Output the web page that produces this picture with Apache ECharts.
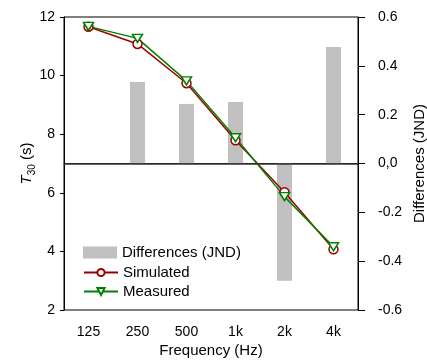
<!DOCTYPE html>
<html><head><meta charset="utf-8">
<script src="https://cdn.jsdelivr.net/npm/echarts@6/dist/echarts.min.js"></script>
<style>html,body{margin:0;padding:0;background:#fff}#c{width:427px;height:360px}</style>
</head><body><div id="c"></div>
<script>
var categories = ['125', '250', '500', '1k', '2k', '4k'];
var simulated = [11.67, 11.08, 9.74, 7.79, 6.02, 4.07];
var measured = [11.68, 11.27, 9.82, 7.88, 5.87, 4.16];
var differences = [null, 0.334, 0.244, 0.252, -0.48, 0.477];
var leftTicks = {min: 2, max: 12, interval: 2};
var rightTicks = {min: -0.6, max: 0.6, interval: 0.2};

var font = 'Liberation Sans, Arial, sans-serif';
var chart = echarts.init(document.getElementById('c'), null, {renderer: 'canvas'});
chart.setOption({
  animation: false,
  textStyle: {fontFamily: font},
  grid: {left: 64, right: 69, top: 17, bottom: 50, outerBoundsMode: 'none', containLabel: false,
    show: true, borderColor: '#000', borderWidth: 1, backgroundColor: 'transparent'},
  legend: [{
    orient: 'vertical', left: 83, top: 245, padding: 0, itemWidth: 34, itemHeight: 12, itemGap: 5,
    textStyle: {fontSize: 15, color: '#000', fontFamily: font},
    data: [{name: 'Differences (JND)', icon: 'rect'}]
  }, {
    orient: 'vertical', left: 83, top: 265, padding: 0, itemWidth: 34, itemHeight: 9, itemGap: 4,
    textStyle: {fontSize: 15, color: '#000', fontFamily: font},
    data: ['Simulated', 'Measured']
  }],
  xAxis: {
    type: 'category', data: categories, boundaryGap: true,
    name: 'Frequency (Hz)', nameLocation: 'middle', nameGap: 33, nameMoveOverlap: false,
    nameTextStyle: {fontSize: 15, color: '#000'},
    axisLine: {lineStyle: {color: '#000', width: 1}},
    axisTick: {alignWithLabel: true, length: 4, lineStyle: {color: '#000'}},
    axisLabel: {fontSize: 14, color: '#000', margin: 15}
  },
  yAxis: [{
    type: 'value', min: leftTicks.min, max: leftTicks.max, interval: leftTicks.interval,
    name: '{i|T}{sub|30} {n|(s)}', nameLocation: 'middle', nameGap: 30, nameRotate: 90, nameMoveOverlap: false,
    nameTextStyle: {fontSize: 15, color: '#000', rich: {
      i: {fontStyle: 'italic', fontSize: 15, color: '#000', lineHeight: 18, verticalAlign: 'bottom'},
      sub: {fontSize: 10, color: '#000', lineHeight: 18, verticalAlign: 'bottom', padding: [0, 0, -3, 0]},
      n: {fontSize: 15, color: '#000', lineHeight: 18, verticalAlign: 'bottom'}
    }},
    axisLine: {show: true, lineStyle: {color: '#000'}},
    axisTick: {show: true, length: 4, lineStyle: {color: '#000'}},
    axisLabel: {fontSize: 14, color: '#000', margin: 9},
    splitLine: {show: false}
  }, {
    type: 'value', position: 'right', min: rightTicks.min, max: rightTicks.max, interval: rightTicks.interval,
    name: 'Differences (JND)', nameLocation: 'middle', nameGap: 54, nameRotate: 90, nameMoveOverlap: false,
    nameTextStyle: {fontSize: 15, color: '#000'},
    axisLine: {show: true, lineStyle: {color: '#000'}},
    axisTick: {show: true, length: 7, lineStyle: {color: '#000'}},
    axisLabel: {fontSize: 14, color: '#000', margin: 20, formatter: function (v) {
      var r = Math.round(v * 10) / 10;
      return r === 0 ? '0,0' : r.toFixed(1);
    }},
    splitLine: {show: false}
  }],
  series: [{
    name: 'Differences (JND)', type: 'bar', yAxisIndex: 1, data: differences,
    barWidth: 15, itemStyle: {color: '#c0c0c0'},
    markLine: {silent: true, symbol: 'none', label: {show: false},
      lineStyle: {color: '#333', width: 1.5, type: 'solid'}, data: [{yAxis: 0}]}
  }, {
    name: 'Simulated', type: 'line', data: simulated, yAxisIndex: 0,
    symbol: 'circle', symbolSize: 9, color: '#990000',
    lineStyle: {color: '#990000', width: 1.5},
    itemStyle: {color: '#fff', borderColor: '#990000', borderWidth: 1.5}
  }, {
    name: 'Measured', type: 'line', data: measured, yAxisIndex: 0,
    symbol: 'triangle', symbolRotate: 180, symbolSize: [10, 8], color: '#008000',
    lineStyle: {color: '#008000', width: 1.5},
    itemStyle: {color: '#fff', borderColor: '#008000', borderWidth: 1.5}
  }]
});
</script></body></html>
